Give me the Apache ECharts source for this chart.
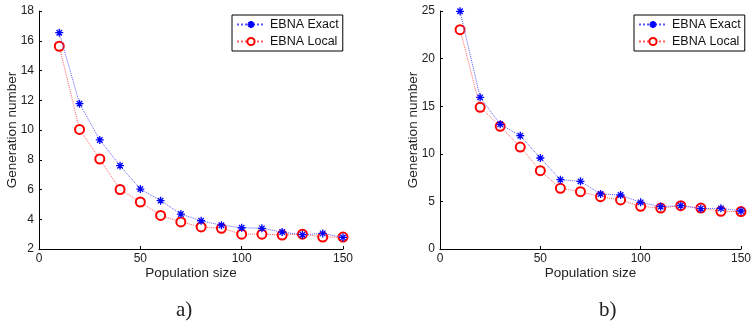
<!DOCTYPE html>
<html>
<head>
<meta charset="utf-8">
<script src="https://cdn.jsdelivr.net/npm/echarts@6/dist/echarts.min.js"></script>
<style>
html,body{margin:0;padding:0;background:#fff;}
#c{width:754px;height:328px;}
</style>
</head>
<body>
<div id="c"></div>
<script>
var populationSizes = [10,20,30,40,50,60,70,80,90,100,110,120,130,140,150];
var exactA = [16.54,11.77,9.33,7.6,6.03,5.25,4.35,3.9,3.6,3.43,3.39,3.14,2.96,3.05,2.78];
var localA = [15.63,10.04,8.05,6.0,5.16,4.26,3.82,3.48,3.39,3.0,3.0,2.94,3.0,2.8,2.8];
var exactB = [24.97,15.93,13.1,11.9,9.56,7.28,7.11,5.78,5.67,4.9,4.45,4.55,4.24,4.27,3.99];
var localB = [23.04,14.88,12.89,10.71,8.23,6.37,6.02,5.5,5.15,4.48,4.3,4.55,4.3,3.96,3.93];
var seriesNames = ['EBNA Exact','EBNA Local'];
var panelLabels = ['a)','b)'];
var xAxisTitle = 'Population size';
var yAxisTitle = 'Generation number';

function pairs(xs, ys){ return xs.map(function(x,i){ return [x, ys[i]]; }); }

var FONT = 'Liberation Sans, Arial, sans-serif';
var STAR = 'path://M5,0L5,10M0,5L10,5M1.6,1.6L8.4,8.4M1.6,8.4L8.4,1.6';

function xAx(gi){
  return {
    type:'value', gridIndex:gi, min:0, max:150, interval:50,
    name:xAxisTitle, nameLocation:'middle', nameGap:17, nameMoveOverlap:false,
    nameTextStyle:{fontFamily:FONT,fontSize:13.5,color:'#222'},
    axisLine:{show:true,onZero:false,lineStyle:{color:'#000',width:1}},
    axisTick:{show:true,inside:true,length:3,lineStyle:{color:'#000'}},
    axisLabel:{fontFamily:FONT,fontSize:12,color:'#222',margin:4},
    splitLine:{show:false}
  };
}
function yAx(gi,min,max,interval){
  return {
    type:'value', gridIndex:gi, min:min, max:max, interval:interval,
    name:yAxisTitle, nameLocation:'middle', nameGap:20, nameMoveOverlap:false,
    nameTextStyle:{fontFamily:FONT,fontSize:13.5,color:'#222'},
    axisLine:{show:true,onZero:false,lineStyle:{color:'#000',width:1}},
    axisTick:{show:true,inside:true,length:3,lineStyle:{color:'#000'}},
    axisLabel:{fontFamily:FONT,fontSize:12,color:'#222',margin:5},
    splitLine:{show:false}
  };
}
function exactSeries(gi,data){
  return {
    name:seriesNames[0], type:'line', xAxisIndex:gi, yAxisIndex:gi,
    data:pairs(populationSizes,data),
    symbol:STAR, symbolSize:8,
    itemStyle:{color:'#0000ff',borderColor:'#0000ff',borderWidth:1.3},
    lineStyle:{color:'#5a5aff',width:1,type:'dotted'},
    animation:false, z:3
  };
}
function localSeries(gi,data){
  return {
    name:seriesNames[1], type:'line', xAxisIndex:gi, yAxisIndex:gi,
    data:pairs(populationSizes,data),
    symbol:'emptyCircle', symbolSize:9,
    itemStyle:{color:'#ff0000',borderColor:'#ff0000',borderWidth:1},
    lineStyle:{color:'#ff6060',width:1,type:'dotted'},
    animation:false, z:2
  };
}
function legendAt(left){
  return {
    data:seriesNames, orient:'vertical', left:left, top:15,
    borderColor:'#000', borderWidth:1, padding:[3,4,3,4],
    itemWidth:28, itemHeight:9, itemGap:4,
    textStyle:{fontFamily:FONT,fontSize:12.5,color:'#111'},
    backgroundColor:'#fff'
  };
}

var chart = echarts.init(document.getElementById('c'), null, {renderer:'canvas'});
chart.setOption({
  animation:false,
  backgroundColor:'#fff',
  grid:[
    {left:39, top:11, width:304, height:238},
    {left:440, top:11, width:305, height:238}
  ],
  xAxis:[xAx(0), xAx(1)],
  yAxis:[yAx(0,2,18,2), yAx(1,0,25,5)],
  legend:[legendAt(232), legendAt(634)],
  series:[exactSeries(0,exactA), localSeries(0,localA), exactSeries(1,exactB), localSeries(1,localB)],
  graphic:[
    {type:'text', left:176, top:300, style:{text:panelLabels[0], font:'21px "Liberation Serif", serif', fill:'#222'}},
    {type:'text', left:599, top:300, style:{text:panelLabels[1], font:'21px "Liberation Serif", serif', fill:'#222'}}
  ]
});
</script>
</body>
</html>
